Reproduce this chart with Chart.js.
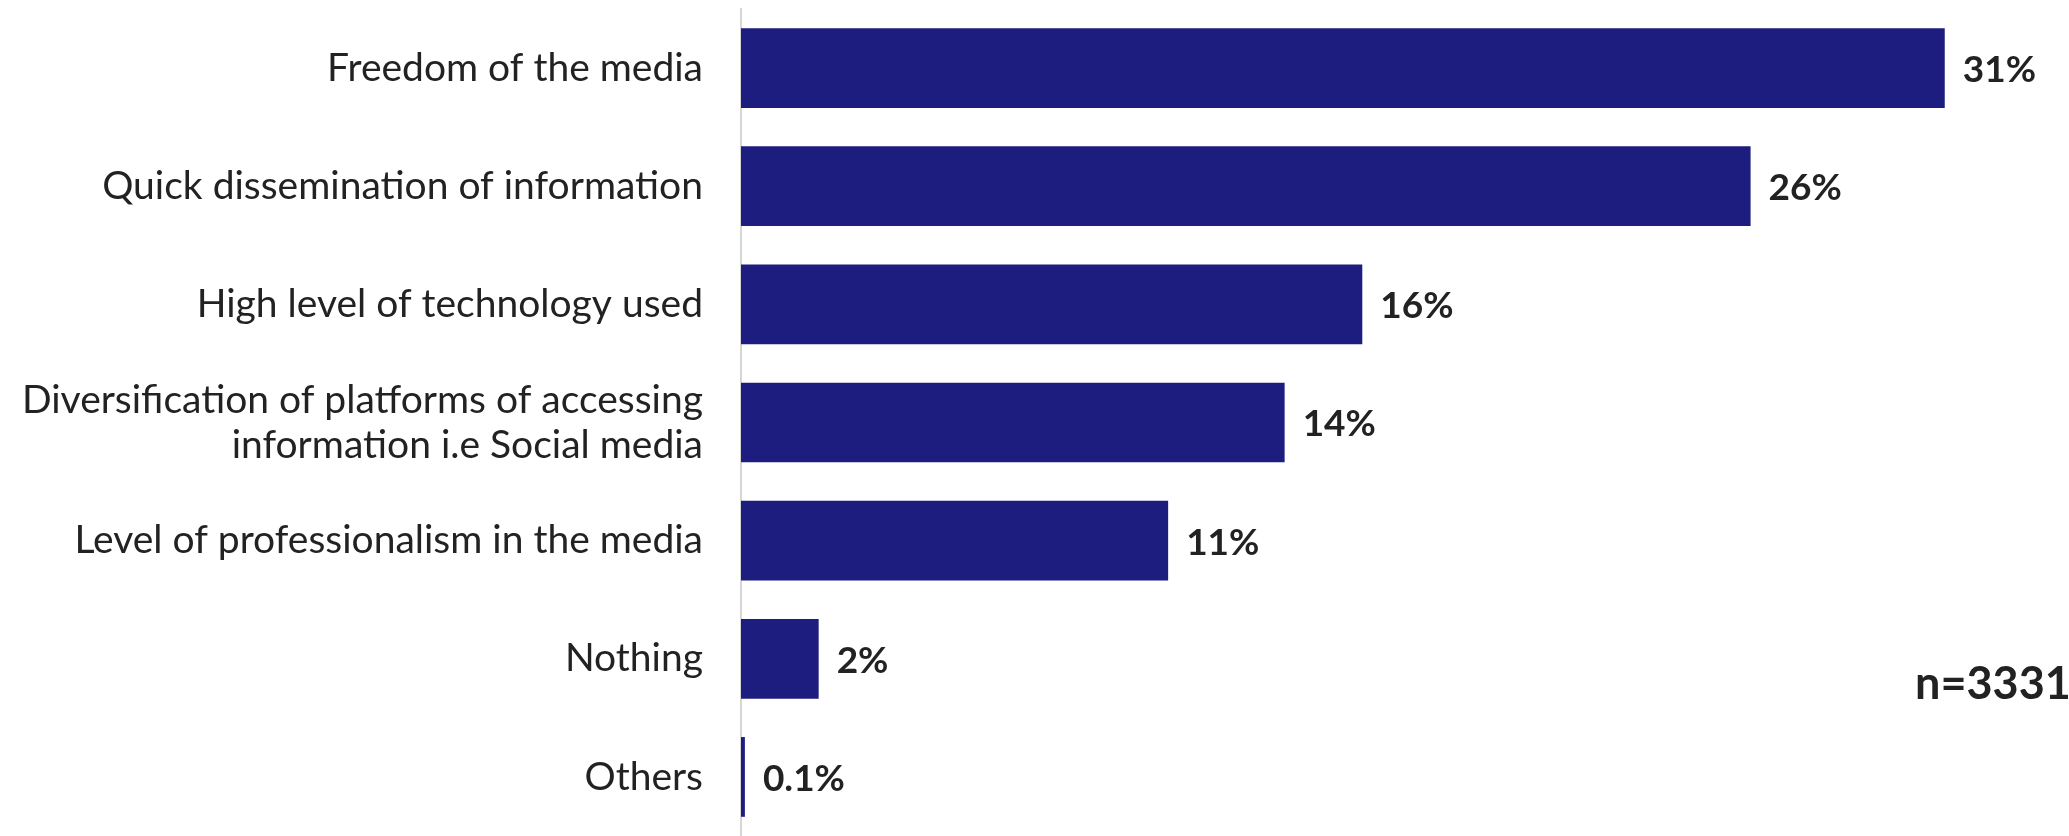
<!DOCTYPE html>
<html>
<head>
<meta charset="utf-8">
<script src="https://cdn.jsdelivr.net/npm/chart.js@4.4.1/dist/chart.umd.min.js"></script>
<style>
  html, body { margin: 0; padding: 0; background: #fff; }
  #wrap { width: 2069px; height: 836px; }
</style>
</head>
<body>
<div id="wrap"><canvas id="chart" width="2069" height="836"></canvas></div>
<script>
// Data
const categories = [
  "Freedom of the media",
  "Quick dissemination of information",
  "High level of technology used",
  ["Diversification of platforms of accessing", "information i.e Social media"],
  "Level of professionalism in the media",
  "Nothing",
  "Others"
];
const shares = [31, 26, 16, 14, 11, 2, 0.1];
const valueLabels = ["31%", "26%", "16%", "14%", "11%", "2%", "0.1%"];
const sampleNote = "n=3331";

const FONT = "Lato, 'Open Sans', sans-serif";
const BAR_COLOR = "#1d1d80";
const TEXT_COLOR = "#222222";

// Bold percentage next to each bar, plus sample size note
const valueLabelPlugin = {
  id: "valueLabels",
  afterDatasetsDraw(chart) {
    const { ctx } = chart;
    const meta = chart.getDatasetMeta(0);
    ctx.save();
    ctx.fillStyle = TEXT_COLOR;
    ctx.textAlign = "left";
    ctx.textBaseline = "middle";
    ctx.font = `bold 37px ${FONT}`;
    meta.data.forEach((bar, i) => {
      ctx.fillText(valueLabels[i], bar.x + 18, bar.y + 2);
    });
    ctx.font = `bold 45px ${FONT}`;
    ctx.fillText(sampleNote, 1915, 684);
    ctx.restore();
  }
};

const ctx = document.getElementById("chart").getContext("2d");
new Chart(ctx, {
  type: "bar",
  data: {
    labels: categories,
    datasets: [{
      data: shares,
      backgroundColor: BAR_COLOR,
      borderWidth: 0,
      categoryPercentage: 1,
      barPercentage: 0.675
    }]
  },
  options: {
    indexAxis: "y",
    responsive: false,
    animation: false,
    layout: { padding: { top: 9, right: 0, bottom: 0, left: 0 } },
    scales: {
      x: {
        display: false,
        min: 0,
        max: 34.2
      },
      y: {
        grid: { display: false, drawTicks: false },
        border: { display: true, color: "#d6d6d6", width: 2 },
        ticks: {
          color: TEXT_COLOR,
          padding: 38,
          font: { family: FONT, size: 39, lineHeight: 1.15 }
        },
        afterFit: (scale) => {
          scale.width = 741;
          scale.paddingTop = 0;
          scale.paddingBottom = 0;
        }
      }
    },
    plugins: {
      legend: { display: false },
      tooltip: { enabled: false }
    }
  },
  plugins: [valueLabelPlugin]
});
</script>
</body>
</html>
